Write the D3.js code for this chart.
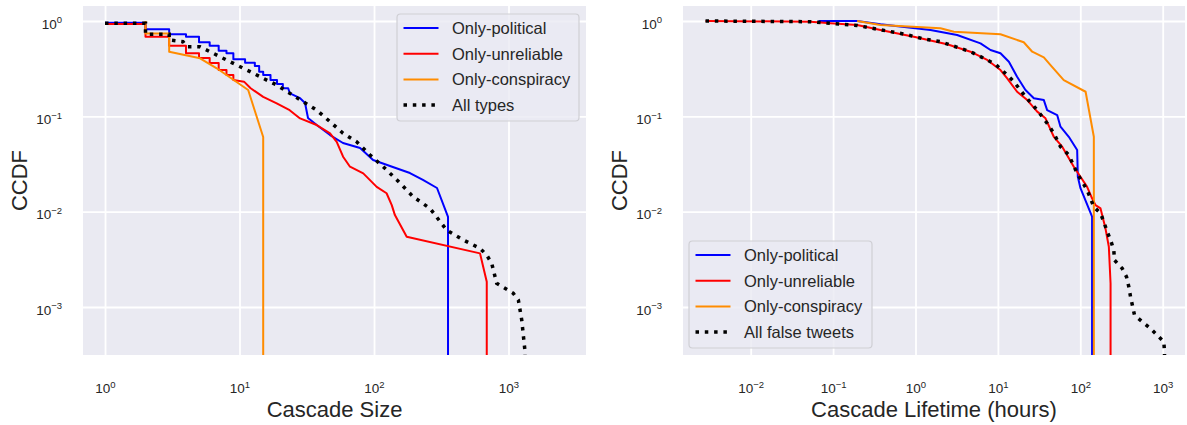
<!DOCTYPE html>
<html>
<head>
<meta charset="utf-8">
<script src="https://cdn.jsdelivr.net/npm/d3@7"></script>
<style>
  body { margin: 0; background: #fff; }
  svg { display: block; }
  text { font-family: "Liberation Sans", Arial, Helvetica, sans-serif; fill: #262626; }
</style>
</head>
<body>
<svg id="chart" width="1187" height="425"></svg>
<script>
// ---- data: CCDF curves as [x, ccdf] points ----
const sizeTicks = [1, 10, 100, 1000];
const lifetimeTicks = [0.01, 0.1, 1, 10, 100, 1000];
const ccdfTicks = [1, 0.1, 0.01, 0.001];

const typeLabels = ["Only-political", "Only-unreliable", "Only-conspiracy"];
const sizeAllLabel = "All types";
const lifetimeAllLabel = "All false tweets";

const sizePolitical = [[1,0.96],[2,0.96],[2,0.82],[3,0.82],[3,0.725],[4,0.725],[4,0.684],[5,0.684],[5,0.598],[6,0.598],[6,0.55],[7,0.55],[7,0.488],[8,0.488],[8,0.458],[9,0.458],[9,0.397],[11,0.397],[11,0.365],[13,0.365],[13,0.337],[14,0.337],[14,0.294],[15,0.294],[15,0.271],[17,0.271],[17,0.24],[19,0.24],[19,0.218],[21,0.218],[21,0.197],[23,0.197],[23.7,0.174],[28.2,0.155],[30.7,0.138],[32.3,0.096],[37.5,0.081],[47.1,0.0636],[58.8,0.0525],[78.8,0.0465],[98.4,0.0348],[138,0.0294],[185,0.0254],[231,0.0215],[294,0.0177],[355,0.0088],[355,1e-4]];
const sizeUnreliable = [[1,0.93],[2,0.93],[2,0.684],[3,0.684],[3,0.55],[4,0.55],[4,0.46],[5,0.46],[5,0.41],[6,0.41],[6,0.362],[7,0.362],[7,0.306],[8,0.306],[8,0.271],[9,0.271],[9,0.24],[10.8,0.231],[12.1,0.197],[15,0.16],[18.9,0.137],[23.6,0.116],[28.2,0.095],[37.5,0.081],[47.1,0.0663],[52.8,0.054],[58.9,0.0377],[66.3,0.0296],[83.2,0.0252],[104.7,0.0182],[124,0.0156],[135.5,0.0117],[143,0.0092],[175,0.00545],[614,0.00365],[689,0.00184],[689,1e-4]];
const sizeConspiracy = [[2,1.0],[2,0.74],[3,0.74],[3,0.476],[5.09,0.406],[6.77,0.319],[11.6,0.189],[15,0.0607],[15,1e-4]];
const sizeAll = [[1,0.946],[2,0.946],[2,0.725],[3,0.725],[3,0.632],[3.8,0.607],[4.05,0.537],[5.08,0.537],[7.16,0.422],[9.53,0.345],[12,0.294],[15,0.25],[18.9,0.213],[23.7,0.174],[29.8,0.142],[37.5,0.116],[47.1,0.0878],[58.9,0.0664],[74.4,0.054],[93.4,0.0393],[117,0.0296],[148,0.0215],[196,0.0143],[261,0.0108],[347,0.0064],[462,0.00504],[614,0.00412],[689,0.0035],[750,0.00287],[817,0.00177],[1086,0.00139],[1184,0.00118],[1254,0.00073],[1327,0.00034],[1327,1e-4]];

const lifetimePolitical = [[0.0665,1.0],[0.196,1.0],[0.376,0.923],[1.52,0.805],[3.2,0.713],[6.15,0.583],[8.13,0.496],[10.75,0.458],[13.6,0.374],[17.1,0.26],[21.6,0.189],[27.3,0.155],[36.1,0.148],[39.6,0.116],[52.4,0.103],[57.5,0.0778],[72.5,0.061],[91.6,0.0443],[93.3,0.0232],[100.5,0.0176],[139,0.00885],[139,1e-4]];
const lifetimeUnreliable = [[0.00283,1.0],[0.0532,0.983],[0.093,0.946],[0.196,0.908],[0.376,0.805],[0.954,0.684],[2.42,0.57],[4.65,0.476],[7.42,0.39],[10.75,0.306],[12.97,0.25],[17.1,0.181],[22.7,0.148],[30,0.112],[37.8,0.0953],[47.7,0.061],[60.3,0.048],[83.4,0.0296],[100.5,0.0232],[121,0.0182],[139,0.0138],[153,0.0117],[176,0.0108],[202,0.00668],[222,0.00428],[233,0.00177],[233,1e-4]];
const lifetimeConspiracy = [[0.196,1.0],[0.376,0.908],[2.01,0.838],[2.92,0.772],[10.75,0.725],[20.6,0.598],[26.1,0.476],[36.1,0.416],[43.5,0.345],[63,0.24],[116,0.181],[146,0.061],[146,1e-4]];
const lifetimeAll = [[0.00283,1.0],[0.0532,0.983],[0.093,0.946],[0.196,0.897],[0.454,0.785],[0.756,0.725],[1.26,0.647],[2.01,0.607],[2.79,0.551],[4.65,0.476],[7.42,0.39],[9.35,0.351],[12.97,0.271],[15.6,0.231],[21.6,0.161],[30,0.116],[39.6,0.0845],[47.7,0.0664],[57.5,0.048],[72.5,0.0393],[91.6,0.0252],[121,0.0169],[146,0.0112],[176,0.0096],[193,0.00783],[212,0.00615],[233,0.00504],[255,0.00395],[260,0.0031],[322,0.00254],[364,0.00207],[388,0.00163],[407,0.00128],[455,0.00082],[564,0.0007],[711,0.000596],[857,0.000507],[1031,0.000431],[1052,0.00034],[1052,1e-4]];

// ---- styling ----
const COLORS = ["#0000ff", "#ff0000", "#ff8c00"];
const BG = "#eaeaf2";

const svg = d3.select("#chart");

function decadeLabel(text, value) {
  const exp = Math.round(Math.log10(value));
  text.text(null);
  text.append("tspan").text("10");
  text.append("tspan")
    .attr("dy", "-0.56em")
    .attr("font-size", "9.5px")
    .text(exp < 0 ? "\u2212" + (-exp) : String(exp));
}

function drawPanel(cfg) {
  const { id, left, right, top, bottom, xDomain, yDomain, xTicks, series, allSeries,
          xLabel, yLabelX, legend } = cfg;
  const g = svg.append("g");
  const x = d3.scaleLog().domain(xDomain).range([left, right]);
  const y = d3.scaleLog().domain(yDomain).range([bottom, top]);

  g.append("rect")
    .attr("x", left).attr("y", top)
    .attr("width", right - left).attr("height", bottom - top)
    .attr("fill", BG);

  // x axis: grid lines + decade labels
  const gx = g.append("g")
    .attr("transform", `translate(0,${bottom})`)
    .call(d3.axisBottom(x).tickValues(xTicks)
      .tickSizeInner(-(bottom - top)).tickSizeOuter(0).tickPadding(0));
  gx.attr("font-size", null).attr("font-family", null);
  gx.select(".domain").remove();
  gx.selectAll(".tick line").attr("stroke", "#fff").attr("stroke-width", 1.8);
  gx.selectAll(".tick text")
    .attr("y", 38).attr("dy", null)
    .attr("font-size", "13.5px").attr("fill", "#262626")
    .each(function (d) { decadeLabel(d3.select(this), d); });

  // y axis: grid lines + decade labels
  const gy = g.append("g")
    .attr("transform", `translate(${left},0)`)
    .call(d3.axisLeft(y).tickValues(ccdfTicks)
      .tickSizeInner(-(right - left)).tickSizeOuter(0).tickPadding(0));
  gy.attr("font-size", null).attr("font-family", null);
  gy.select(".domain").remove();
  gy.selectAll(".tick line").attr("stroke", "#fff").attr("stroke-width", 1.8);
  gy.selectAll(".tick text")
    .attr("x", -21).attr("y", 7.3).attr("dy", null)
    .attr("font-size", "13.5px").attr("fill", "#262626")
    .attr("text-anchor", "end")
    .each(function (d) { decadeLabel(d3.select(this), d); });

  // curves
  svg.append("clipPath").attr("id", id + "-clip")
    .append("rect")
    .attr("x", left).attr("y", top)
    .attr("width", right - left).attr("height", bottom - top);

  const line = d3.line().x(d => x(d[0])).y(d => y(d[1]));
  const curves = g.append("g").attr("clip-path", `url(#${id}-clip)`);
  series.forEach((s, i) => {
    curves.append("path")
      .datum(s)
      .attr("d", line)
      .attr("fill", "none")
      .attr("stroke", COLORS[i])
      .attr("stroke-width", 2)
      .attr("stroke-linejoin", "round");
  });
  curves.append("path")
    .datum(allSeries)
    .attr("d", line)
    .attr("fill", "none")
    .attr("stroke", "#000")
    .attr("stroke-width", 3.5)
    .attr("stroke-dasharray", "3.5,5.8");

  // axis titles
  g.append("text")
    .attr("x", (left + right) / 2).attr("y", 417)
    .attr("text-anchor", "middle")
    .attr("font-size", "22px")
    .text(xLabel);
  g.append("text")
    .attr("transform", `translate(${yLabelX},${(top + bottom) / 2}) rotate(-90)`)
    .attr("text-anchor", "middle")
    .attr("font-size", "22px")
    .text("CCDF");

  // legend
  const lg = g.append("g");
  lg.append("rect")
    .attr("x", legend.x).attr("y", legend.y)
    .attr("width", legend.w).attr("height", legend.h)
    .attr("rx", 3.5)
    .attr("fill", BG).attr("fill-opacity", 0.8)
    .attr("stroke", "#cfcfd4").attr("stroke-width", 1.2);
  const labels = typeLabels.concat([legend.allLabel]);
  labels.forEach((lab, i) => {
    const cy = legend.y + 14 + i * 25.7;
    const ln = lg.append("line")
      .attr("x1", legend.x + 6.5).attr("x2", legend.x + 41.5)
      .attr("y1", cy).attr("y2", cy);
    if (i < 3) {
      ln.attr("stroke", COLORS[i]).attr("stroke-width", 2);
    } else {
      ln.attr("stroke", "#000").attr("stroke-width", 3.5).attr("stroke-dasharray", "3.5,5.8");
    }
    lg.append("text")
      .attr("x", legend.x + 55).attr("y", cy + 5.8)
      .attr("font-size", "16.5px")
      .text(lab);
  });
}

drawPanel({
  id: "size",
  left: 83, right: 586, top: 6, bottom: 355,
  xDomain: [0.686, 3768], yDomain: [3.135e-4, 1.436],
  xTicks: sizeTicks,
  series: [sizePolitical, sizeUnreliable, sizeConspiracy],
  allSeries: sizeAll,
  xLabel: "Cascade Size",
  yLabelX: 27,
  legend: { x: 397, y: 14, w: 182, h: 107, allLabel: sizeAllLabel }
});

drawPanel({
  id: "lifetime",
  left: 683, right: 1185, top: 6, bottom: 355,
  xDomain: [0.001508, 1865], yDomain: [3.135e-4, 1.436],
  xTicks: lifetimeTicks,
  series: [lifetimePolitical, lifetimeUnreliable, lifetimeConspiracy],
  allSeries: lifetimeAll,
  xLabel: "Cascade Lifetime (hours)",
  yLabelX: 627,
  legend: { x: 689, y: 241, w: 183, h: 107, allLabel: lifetimeAllLabel }
});
</script>
</body>
</html>
